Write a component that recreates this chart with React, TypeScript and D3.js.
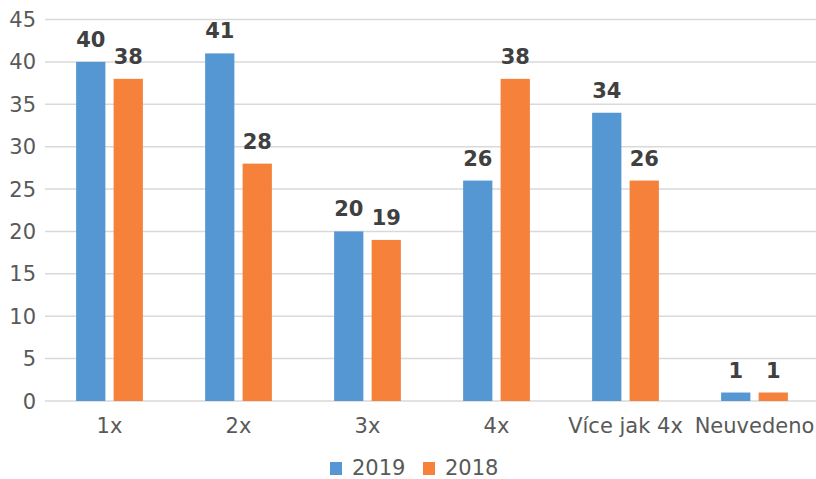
import React, { useEffect, useRef } from "react";
import * as d3 from "d3";

const categories = ["1x", "2x", "3x", "4x", "Více jak 4x", "Neuvedeno"];
const seriesNames = ["2019", "2018"];
const values2019 = [40, 41, 20, 26, 34, 1];
const values2018 = [38, 28, 19, 38, 26, 1];
const yTicks = [0, 5, 10, 15, 20, 25, 30, 35, 40, 45];

const App = () => {
    const svgRef = useRef<SVGSVGElement>(null);

    useEffect(() => {
        const svg = d3.select(svgRef.current);
        svg.selectAll("*").remove();

        const width = 816;
        const height = 479;
        const fontFamily = "'DejaVu Sans', Verdana, sans-serif";
        const colors = ["#5597d3", "#f5813a"];
        const seriesValues = [values2019, values2018];

        svg.attr("width", width).attr("height", height);

        const x0 = d3.scaleBand().domain(categories).range([45, 819]).padding(0);
        const x1 = d3
            .scaleBand()
            .domain(seriesNames)
            .range([0, x0.bandwidth()])
            .paddingInner(0.22)
            .paddingOuter(0.83);
        const y = d3.scaleLinear().domain([0, 45]).range([401, 19.5]);

        // Gridlines
        svg.append("g")
            .selectAll("line")
            .data(yTicks)
            .join("line")
            .attr("x1", 45)
            .attr("x2", width)
            .attr("y1", (d) => y(d))
            .attr("y2", (d) => y(d))
            .attr("stroke", "#d9d9d9")
            .attr("stroke-width", 1.5);

        // Y tick labels
        svg.append("g")
            .selectAll("text")
            .data(yTicks)
            .join("text")
            .attr("x", 36)
            .attr("y", (d) => y(d))
            .attr("dy", "0.36em")
            .attr("text-anchor", "end")
            .style("font-family", fontFamily)
            .style("font-size", "21px")
            .style("fill", "#595959")
            .text((d) => d);

        // Bars and labels
        seriesNames.forEach((name, si) => {
            const g = svg.append("g");
            g.selectAll("rect")
                .data(categories)
                .join("rect")
                .attr("x", (c) => (x0(c) as number) + (x1(name) as number))
                .attr("y", (c, i) => y(seriesValues[si][i]))
                .attr("width", x1.bandwidth())
                .attr("height", (c, i) => y(0) - y(seriesValues[si][i]))
                .attr("fill", colors[si]);

            g.selectAll("text")
                .data(categories)
                .join("text")
                .attr("x", (c) => (x0(c) as number) + (x1(name) as number) + x1.bandwidth() / 2)
                .attr("y", (c, i) => y(seriesValues[si][i]) - 15)
                .attr("text-anchor", "middle")
                .style("font-family", fontFamily)
                .style("font-size", "21px")
                .style("font-weight", "bold")
                .style("fill", "#404040")
                .text((c, i) => seriesValues[si][i]);
        });

        // Category labels
        svg.append("g")
            .selectAll("text")
            .data(categories)
            .join("text")
            .attr("x", (c) => (x0(c) as number) + x0.bandwidth() / 2)
            .attr("y", 433)
            .attr("text-anchor", "middle")
            .style("font-family", fontFamily)
            .style("font-size", "21px")
            .style("fill", "#595959")
            .text((c) => c);

        // Legend
        const legendX = [330, 423];
        const legend = svg.append("g");
        seriesNames.forEach((name, i) => {
            legend.append("rect")
                .attr("x", legendX[i])
                .attr("y", 462)
                .attr("width", 12)
                .attr("height", 13)
                .attr("fill", colors[i]);
            legend.append("text")
                .attr("x", legendX[i] + 22)
                .attr("y", 475)
                .style("font-family", fontFamily)
                .style("font-size", "21px")
                .style("fill", "#595959")
                .text(name);
        });
    }, []);

    return (
        <div style={{ position: "absolute", left: 0, top: 0 }}>
            <svg ref={svgRef} style={{ display: "block" }}></svg>
        </div>
    );
};

export default App;
